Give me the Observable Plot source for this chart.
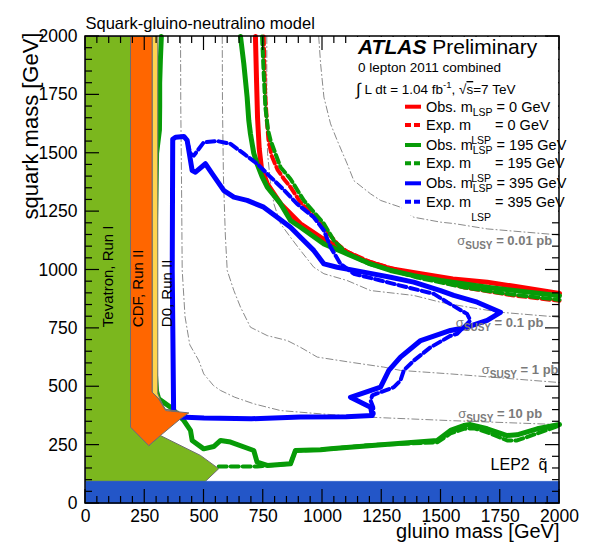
<!DOCTYPE html>
<html><head><meta charset="utf-8">
<script src="https://cdn.jsdelivr.net/npm/d3@7"></script>
<script src="https://cdn.jsdelivr.net/npm/@observablehq/plot@0.6"></script>
<style>body{margin:0;background:#fff;font-family:"Liberation Sans",Arial,sans-serif}</style>
</head><body><div id="chart"></div><script>
// ---- data (gluino mass, squark mass) in GeV ----
const xTicks = [0,250,500,750,1000,1250,1500,1750,2000];
const yTicks = [0,250,500,750,1000,1250,1500,1750,2000];
const minorTicks = d3.range(0,2001,50).filter(v => v % 250 !== 0);

const obsRed = [[717,2000],[722,1800],[726,1650],[733,1520],[742,1440],[767,1369],[823,1284],[907,1198],[992,1140],[1089,1084],[1173,1041],[1287,1005],[1414,984],[1550,962],[1695,948],[1835,926],[2000,900]];
const expRed = [[752,2000],[755,1850],[759,1740],[765,1640],[772,1560],[785,1490],[810,1430],[837,1390],[865,1355],[907,1290],[992,1198],[1062,1112],[1104,1078],[1200,1035],[1400,975],[1600,925],[1800,892],[2000,868]];
const obsGreenTop = [[654,2000],[668,1883],[682,1740],[689,1640],[696,1583],[710,1500],[724,1455],[745,1400],[767,1355],[823,1284],[865,1212],[907,1183],[1006,1112],[1104,1069],[1203,1026],[1287,998],[1385,976],[1498,955],[1695,926],[2000,890]];
const expGreenTop = [[745,2000],[752,1840],[759,1697],[770,1600],[781,1555],[802,1497],[823,1440],[865,1390],[921,1298],[1006,1198],[1048,1126],[1104,1070],[1200,1025],[1400,968],[1600,925],[1800,895],[2000,872]];
const obsGreenLow = [[320,2000],[316,1900],[313,1800],[313,1700],[312,1600],[300,1500],[292,1000],[292,600],[300,480],[309,448],[359,412],[415,355],[443,313],[450,270],[499,234],[541,244],[570,270],[612,263],[710,227],[724,177],[767,163],[865,170],[886,227],[992,230],[1034,234],[1250,252],[1484,270],[1540,313],[1596,334],[1624,338],[1695,320],[1779,291],[1821,294],[1906,320],[2000,338]];
const expGreenLow = [[562,158],[724,158],[767,163],[865,170],[886,227],[992,230],[1200,250],[1484,262],[1540,300],[1596,320],[1640,322],[1695,305],[1779,270],[1821,270],[1906,300],[2000,334]];
const obsBlue = [[372,372],[366,1000],[368,1560],[380,1569],[415,1572],[429,1555],[450,1426],[464,1419],[506,1455],[535,1412],[584,1340],[626,1312],[682,1298],[752,1269],[809,1226],[865,1183],[907,1140],[963,1084],[1006,1026],[1062,1012],[1174,991],[1287,969],[1385,948],[1498,912],[1554,891],[1653,862],[1751,819],[1695,784],[1610,755],[1540,741],[1414,698],[1329,627],[1280,570],[1245,498],[1118,455],[1203,412],[1210,377],[1100,372],[907,370],[700,363],[500,366],[372,372]];
const expBlue = [[429,1550],[443,1498],[457,1490],[499,1547],[556,1552],[612,1540],[668,1498],[724,1455],[781,1398],[840,1340],[893,1283],[963,1226],[1006,1169],[1034,1098],[1076,1026],[1132,984],[1245,955],[1357,926],[1470,898],[1526,862],[1610,812],[1624,784],[1568,727],[1540,718],[1456,669],[1385,612],[1343,570],[1329,527],[1301,498],[1245,477],[1210,463],[1203,441],[1214,412],[1216,384]];

const sigma10 = [[401,2000],[402,1700],[405,1400],[408,1000],[420,800],[440,680],[478,612],[499,555],[540,505],[570,484],[630,455],[710,427],[823,398],[992,384],[1189,370],[1540,355],[2000,338]];
const sigma1 = [[577,2000],[578,1700],[582,1400],[590,1150],[598,998],[626,912],[654,841],[696,755],[767,719],[851,698],[907,669],[978,627],[1118,605],[1259,584],[1329,570],[1540,555],[2000,518]];
const sigma01 = [[765,2000],[765,1700],[768,1500],[780,1380],[795,1283],[823,1198],[865,1140],[907,1084],[963,1012],[1006,984],[1104,955],[1203,912],[1385,891],[1498,862],[1620,840],[1751,819],[2000,798]];
const sigma001 = [[984,2000],[992,1883],[1006,1740],[1034,1626],[1062,1555],[1104,1455],[1132,1383],[1203,1326],[1245,1298],[1329,1269],[1385,1226],[1498,1205],[1554,1199],[1695,1176],[2000,1150]];

const tevRunI = [[0,95],[0,2000],[190,2000],[190,327],[267,248],[316,291],[485,206],[562,149],[506,95]];
const cdfRunII = [[190,2000],[281,2000],[281,477],[309,448],[338,398],[436,388],[401,363],[316,291],[267,248],[190,327]];
const d0RunII = [[281,2000],[305,2000],[305,470],[318,440],[335,404],[395,394],[338,402],[312,446],[281,477]];
const lep2 = [[0,0],[2000,0],[2000,95],[0,95]];

const sigmaLabels = [{x:1927,y:385,t:"10 pb"},{x:1996,y:574,t:"1 pb"},{x:1932,y:775,t:"0.1 pb"},{x:1969,y:1126,t:"0.01 pb"}];
const tevLabels = [{x:97,y:755,t:"Tevatron, Run I"},{x:222,y:755,t:"CDF, Run II"},{x:345,y:755,t:"D0, Run II"}];

const RED="#ff0000", GREEN="#079b07", BLUE="#0000ff", GREY="#8a8a8a";
const FONT='"Liberation Sans",Arial,sans-serif';
const gx=d=>d[0], gy=d=>d[1];
const sig = data => Plot.line(data,{x:gx,y:gy,stroke:GREY,strokeWidth:1,strokeDasharray:"7,3,1,3"});
const solid = (data,c) => Plot.line(data,{x:gx,y:gy,stroke:c,strokeWidth:5,strokeLinejoin:"round"});
const dashed = (data,c) => Plot.line(data,{x:gx,y:gy,stroke:c,strokeWidth:4,strokeDasharray:"8,4"});
const poly = (data,c) => Plot.line(data.concat([data[0]]),{x:gx,y:gy,fill:c,stroke:"#6e6e6e",strokeWidth:1});

const plot = Plot.plot({
  width:589, height:547,
  marginLeft:85, marginRight:30, marginTop:36, marginBottom:44,
  x:{domain:[0,2000], axis:null}, y:{domain:[0,2000], axis:null},
  style:{fontFamily:FONT, background:"white", color:"black"},
  marks:[
    sig(sigma10), sig(sigma1), sig(sigma01), sig(sigma001),
    solid(obsRed,RED), dashed(expRed,RED),
    solid(obsGreenTop,GREEN), dashed(expGreenTop,GREEN),
    dashed(expGreenLow,GREEN), solid(obsGreenLow,GREEN),
    dashed(expBlue,BLUE), solid(obsBlue,BLUE),
    poly(tevRunI,"#7bb71e"), poly(d0RunII,"#ffd44f"), poly(cdfRunII,"#ff6600"),
    Plot.line(lep2.concat([lep2[0]]),{x:gx,y:gy,fill:"#2356c8",stroke:"#2356c8",strokeWidth:0.5}),
    Plot.text(tevLabels,{x:"x",y:"y",text:"t",rotate:-90,textAnchor:"start",fontSize:15,fill:"black"}),
    Plot.text(sigmaLabels,{x:"x",y:"y",text:d=>"σSUSY = "+d.t,textAnchor:"end",fontSize:13,fontWeight:"bold",fill:"#7a7a7a"}),
    Plot.text(["LEP2  q\u0303"],{frameAnchor:"bottom-right",dx:-12,dy:-34,textAnchor:"end",fontSize:16,fill:"black"}),
    Plot.text(xTicks,{x:d=>d,frameAnchor:"bottom",dy:18,text:d=>String(d),fontSize:17.5,fill:"black"}),
    Plot.text(yTicks,{y:d=>d,frameAnchor:"left",dx:-8,textAnchor:"end",text:d=>String(d),fontSize:17.5,fill:"black"}),
    Plot.text(["gluino mass [GeV]"],{frameAnchor:"bottom-right",dy:34,textAnchor:"end",fontSize:20,fill:"black"}),
    Plot.text(["squark mass [GeV]"],{frameAnchor:"top-left",dx:-63,dy:-4,rotate:-90,textAnchor:"end",fontSize:22,fill:"black"}),
    Plot.text(["Squark-gluino-neutralino model"],{frameAnchor:"top-left",dy:-19,textAnchor:"start",fontSize:16.5,fill:"black"})
  ]
});
document.getElementById("chart").appendChild(plot);

const svg = d3.select(plot);
// inward ticks on all four sides, placed with the plot's own scales
const sx = plot.scale("x"), sy = plot.scale("y");
const X0 = sx.apply(0), X1 = sx.apply(2000), Y0 = sy.apply(0), Y1 = sy.apply(2000);
const tg = svg.append("g").attr("stroke","black").attr("stroke-width",1.2);
const addTicks = (vals, len) => vals.forEach(v => {
  const px = sx.apply(v), py = sy.apply(v);
  tg.append("line").attr("x1",px).attr("x2",px).attr("y1",Y0).attr("y2",Y0-len);
  tg.append("line").attr("x1",px).attr("x2",px).attr("y1",Y1).attr("y2",Y1+len);
  tg.append("line").attr("y1",py).attr("y2",py).attr("x1",X0).attr("x2",X0+len);
  tg.append("line").attr("y1",py).attr("y2",py).attr("x1",X1).attr("x2",X1-len);
});
addTicks(xTicks, 14);
addTicks(minorTicks, 7);

// white label / legend boxes (as in the original, they mask ticks)
svg.append("rect").attr("x",355).attr("y",Y1+1).attr("width",X1-355-1).attr("height",98-Y1).attr("fill","white");
svg.append("rect").attr("x",402).attr("y",97).attr("width",X1-402-1).attr("height",118).attr("fill","white");
// frame on top
svg.append("rect").attr("x",X0).attr("y",Y1).attr("width",X1-X0).attr("height",Y0-Y1)
  .attr("fill","none").attr("stroke","black").attr("stroke-width",1.5);

// subscripts on sigma labels
svg.selectAll("text").each(function(){
  const s = this.textContent;
  if (s.startsWith("σSUSY")) {
    const rest = s.slice(5);
    const el = d3.select(this); el.text(null);
    el.append("tspan").attr("font-weight","normal").text("σ");
    el.append("tspan").attr("dy",4).attr("font-size",10).text("SUSY");
    el.append("tspan").attr("dy",-4).text(rest);
  }
});

// legend block (layout)
const g = svg.append("g").attr("font-family",FONT).attr("fill","black").attr("text-anchor","start");
const t1 = g.append("text").attr("x",358).attr("y",54).attr("font-size",21);
t1.append("tspan").attr("font-weight","bold").attr("font-style","italic").text("ATLAS");
t1.append("tspan").text(" Preliminary");
g.append("text").attr("x",358).attr("y",72).attr("font-size",13.5).text("0 lepton 2011 combined");
const t3 = g.append("text").attr("x",356).attr("y",94).attr("font-size",13.5);
t3.append("tspan").attr("font-size",17).attr("dy",1).text("∫");
t3.append("tspan").attr("dy",-1).text(" L dt = 1.04 fb");
t3.append("tspan").attr("dy",-6).attr("font-size",9.5).text("-1");
t3.append("tspan").attr("dy",6).text(", √");
t3.append("tspan").attr("text-decoration","overline").text("s");
t3.append("tspan").text("=7 TeV");
const legendRows = [
  {c:RED,d:false,k:"Obs.",v:"0"},{c:RED,d:true,k:"Exp.",v:"0"},
  {c:GREEN,d:false,k:"Obs.",v:"195"},{c:GREEN,d:true,k:"Exp.",v:"195"},
  {c:BLUE,d:false,k:"Obs.",v:"395"},{c:BLUE,d:true,k:"Exp.",v:"395"}];
const rowY = [106.7,125,145,163.3,183.3,201.7];
legendRows.forEach((r,i)=>{
  const y = rowY[i];
  g.append("line").attr("x1",405).attr("x2",421).attr("y1",y).attr("y2",y)
    .attr("stroke",r.c).attr("stroke-width",4).attr("stroke-dasharray",r.d?"6,3":null);
  const t = g.append("text").attr("x",426).attr("y",y+5).attr("font-size",14.5);
  t.append("tspan").text(r.k+" m");
  const off = r.d ? 14 : 4;
  t.append("tspan").attr("dy",off).attr("font-size",10.5).text("LSP");
  t.append("tspan").attr("dy",-off).text(" = "+r.v+" GeV");
});
</script></body></html>
